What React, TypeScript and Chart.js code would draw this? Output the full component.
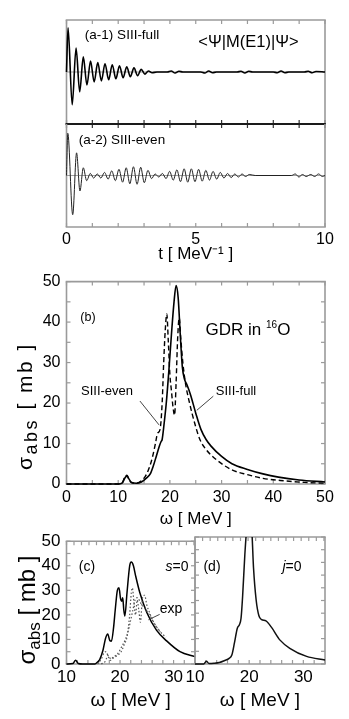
import React, { useEffect, useRef } from 'react';
import { Chart, registerables } from 'chart.js';

Chart.register(...registerables);

const FONT = "'Liberation Sans', Arial, Helvetica, sans-serif";
Chart.defaults.font.family = FONT;
Chart.defaults.color = '#000';

// ---------- panel (a-1): <Psi|M(E1)|Psi>, SIII-full ----------
const a1Time = [0, 0.06, 0.22, 0.37, 0.51, 0.65, 0.79, 0.93, 1.07, 1.21, 1.35, 1.49, 1.63, 1.77, 1.91, 2.05, 2.19, 2.33, 2.47, 2.61, 2.75, 2.89, 3.03, 3.17, 3.31, 3.5, 3.9, 4.05, 4.2, 4.35, 4.5, 5.2, 5.35, 5.5, 5.65, 5.8, 6.6, 6.75, 6.9, 7.05, 7.2, 8.0, 8.15, 8.3, 8.45, 8.6, 9.2, 9.35, 9.5, 9.65, 10];
const a1Moment = [0, 0.85, -0.63, 0.46, -0.38, 0.29, -0.25, 0.21, -0.19, 0.18, -0.17, 0.16, -0.15, 0.14, -0.13, 0.12, -0.11, 0.10, -0.09, 0.08, -0.07, 0.05, -0.04, 0.02, -0.015, 0, 0, 0.02, -0.02, 0.015, 0, 0, -0.02, 0.02, -0.015, 0, 0, 0.015, -0.02, 0.015, 0, 0, -0.015, 0.02, -0.015, 0, 0, 0.015, -0.015, 0.01, 0];

// ---------- panel (a-2): SIII-even ----------
const a2Time = [0, 0.05, 0.24, 0.39, 0.52, 0.65, 0.78, 0.92, 1.05, 1.19, 1.33, 1.47, 1.61, 1.75, 1.89, 2.03, 2.17, 2.31, 2.45, 2.59, 2.73, 2.87, 3.01, 3.15, 3.29, 3.43, 3.57, 3.71, 3.85, 3.99, 4.13, 4.27, 4.41, 4.55, 4.69, 4.83, 4.97, 5.11, 5.25, 5.39, 5.53, 5.67, 5.81, 5.95, 6.09, 6.23, 6.37, 6.51, 6.65, 6.79, 6.93, 7.07, 7.3, 8.7, 8.85, 8.99, 9.13, 9.27, 9.45, 9.6, 9.75, 9.9, 10];
const a2Moment = [0, 0.82, -0.76, 0.44, -0.30, 0.15, -0.10, 0.04, -0.05, 0.03, -0.05, 0.06, -0.07, 0.09, -0.10, 0.12, -0.13, 0.15, -0.16, 0.17, -0.17, 0.16, -0.14, 0.10, -0.06, 0.03, -0.03, 0.04, -0.06, 0.08, -0.09, 0.11, -0.12, 0.13, -0.13, 0.13, -0.12, 0.12, -0.11, 0.10, -0.09, 0.08, -0.07, 0.06, -0.05, 0.04, -0.04, 0.03, -0.03, 0.03, -0.02, 0.02, 0, 0, 0.03, -0.03, 0.02, -0.02, 0.02, -0.02, 0.03, -0.02, 0];
const tTickValues = [0, 5, 10];

// ---------- panel (b): GDR in 16O ----------
const bFullOmega = [0, 10, 10.8, 11.3, 11.7, 12.1, 12.6, 13.5, 14.5, 15.5, 16.2, 16.8, 17.4, 18.0, 18.3, 18.5, 18.8, 19.3, 19.8, 20.3, 20.8, 21.2, 21.6, 22.0, 22.4, 22.8, 23.3, 24, 25, 26, 27, 28, 30, 32, 35, 38, 41, 45, 50];
const bFullSigma = [0, 0, 0.3, 1.5, 2, 1.2, 0.4, 0.2, 0.5, 1.5, 2.5, 4.5, 7, 9.5, 10.5, 11, 14, 20, 28, 37, 45, 49, 46, 37, 29, 26, 24.5, 22, 17.5, 13.5, 11, 9.3, 6.8, 5.0, 3.6, 2.5, 1.7, 1.0, 0.5];
const bEvenOmega = [0, 10, 10.8, 11.3, 11.7, 12.1, 12.6, 13.5, 14.5, 15.3, 16, 16.6, 17.2, 17.6, 18.1, 18.5, 18.8, 19.1, 19.4, 19.7, 20.0, 20.3, 20.6, 20.9, 21.2, 21.5, 21.8, 22.1, 22.5, 23, 23.8, 24.8, 25.8, 27, 29, 32, 35, 38, 42, 46, 50];
const bEvenSigma = [0, 0, 0.3, 1.8, 2.2, 1.0, 0.3, 0.2, 0.8, 2, 4, 6.5, 10, 12.5, 13.5, 20, 30, 38, 42, 35, 27, 23, 19, 17, 25, 36, 41, 36, 30, 25, 20, 15, 11, 8.5, 6, 3.5, 2.3, 1.4, 0.8, 0.4, 0.2];
const bOmegaTicks = [0, 10, 20, 30, 40, 50];
const bSigmaTicks = [0, 10, 20, 30, 40, 50];

// ---------- panel (c): s=0 with experiment ----------
const cOmega = [10, 11.2, 11.7, 12.2, 13, 15.3, 15.8, 16.2, 16.8, 17.3, 17.7, 18.1, 18.4, 18.8, 19.1, 19.5, 19.8, 20.1, 20.3, 20.5, 20.7, 20.9, 21.3, 21.8, 22.1, 22.5, 22.9, 23.7, 25, 26.8, 28.7, 31.2, 34];
const cSigma = [0, 0.2, 1.5, 0.2, 0, 0, 0.8, 1.8, 5.5, 10.5, 12.2, 9.5, 9.3, 15, 22, 30, 31, 26.5, 25.5, 27, 22, 19.5, 29, 40, 41.5, 40, 36, 29, 21, 13.8, 9.4, 5, 3];
const exp1Omega = [15.8, 16.5, 17.0, 17.4, 17.8, 18.2, 18.8, 19.5, 20.2, 20.8, 21.3, 21.8, 22.1, 22.3, 22.6, 22.9, 23.2, 23.5, 23.8, 24.2, 24.6, 25, 25.5, 26.3, 27.2, 28, 28.6];
const exp1Sigma = [0, 2, 4.5, 5, 3, 1.5, 2.5, 3.5, 5, 8, 11, 20, 29, 31, 25, 20, 26, 22, 17, 27, 28, 24, 21, 17, 14, 12, 11];
const exp2Omega = [16.5, 17.2, 17.8, 18.3, 18.8, 19.5, 20.3, 21, 21.6, 22, 22.4, 22.8, 23.3, 23.8, 24.5, 25.5, 26.5, 27.5];
const exp2Sigma = [0, 1, 3.5, 2, 3, 4, 7, 10, 14, 18, 22, 26, 27, 25, 23, 20, 16, 13];

// ---------- panel (d): j=0 ----------
const dOmega = [10, 11.6, 12.1, 12.6, 13.5, 14.5, 15.5, 16.3, 16.8, 17.3, 17.8, 18.2, 18.5, 18.8, 19.2, 19.5, 20.0, 20.5, 20.8, 21.3, 21.8, 22.3, 23.1, 24.1, 25.7, 27.5, 30.6, 34];
const dSigma = [0, 0, 1.1, 0.2, 0.3, 0.6, 1.4, 2.2, 3.5, 8.5, 14, 15.5, 18, 27, 43, 52, 58, 52, 38, 25, 19, 17.5, 17, 14.5, 9.4, 6.2, 3, 1.6];
const cdOmegaTicks = [10, 20, 30];
const cdSigmaTicks = [0, 10, 20, 30, 40, 50];

const pts = (xs: number[], ys: number[]) => xs.map((x, i) => ({ x, y: ys[i] }));
const setTicks = (vals: number[]) => (scale: any) => {
  scale.ticks = vals.map((v) => ({ value: v }));
};

const GRAY = '#9a9a9a';

const framePlugin = {
  id: 'frame',
  beforeDatasetsDraw(chart: any, _args: any, opts: any) {
    const { ctx, chartArea: a, scales } = chart;
    const xs = scales.x;
    const ys = scales.y;
    ctx.save();
    if (opts.zeroLine) {
      const y0 = ys.getPixelForValue(0);
      ctx.strokeStyle = '#777';
      ctx.lineWidth = 0.7;
      ctx.beginPath();
      ctx.moveTo(a.left, y0);
      ctx.lineTo(a.right, y0);
      ctx.stroke();
    }
    ctx.lineWidth = 1.2;
    ctx.strokeStyle = GRAY;
    for (const t of opts.ticks || []) {
      const horiz = t.side === 'top' || t.side === 'bottom';
      const sc = horiz ? xs : ys;
      const len = t.len || 4;
      const start = t.from !== undefined ? t.from : sc.min;
      for (let v = start; v <= sc.max + 1e-6; v += t.step) {
        const p = sc.getPixelForValue(v);
        ctx.strokeStyle = t.color || GRAY;
        ctx.beginPath();
        if (t.side === 'top') { ctx.moveTo(p, a.top); ctx.lineTo(p, a.top + len); }
        if (t.side === 'bottom') { ctx.moveTo(p, a.bottom); ctx.lineTo(p, a.bottom - len); }
        if (t.side === 'left') { ctx.moveTo(a.left, p); ctx.lineTo(a.left + len, p); }
        if (t.side === 'right') { ctx.moveTo(a.right, p); ctx.lineTo(a.right - len, p); }
        ctx.stroke();
      }
    }
    const b = opts.borders || {};
    const side = (name: string, x1: number, y1: number, x2: number, y2: number) => {
      const s = b[name] || { color: GRAY, width: 1.6 };
      if (s.hide) return;
      ctx.strokeStyle = s.color;
      ctx.lineWidth = s.width;
      ctx.beginPath();
      ctx.moveTo(x1, y1);
      ctx.lineTo(x2, y2);
      ctx.stroke();
    };
    side('top', a.left - 0.8, a.top, a.right + 0.8, a.top);
    side('bottom', a.left - 0.8, a.bottom, a.right + 0.8, a.bottom);
    side('left', a.left, a.top, a.left, a.bottom);
    side('right', a.right, a.top, a.right, a.bottom);
    ctx.restore();
  },
  afterDatasetsDraw(chart: any, _args: any, opts: any) {
    const { ctx, scales } = chart;
    ctx.save();
    ctx.strokeStyle = '#444';
    ctx.lineWidth = 1;
    for (const l of opts.leaders || []) {
      ctx.beginPath();
      ctx.moveTo(scales.x.getPixelForValue(l[0]), scales.y.getPixelForValue(l[1]));
      ctx.lineTo(scales.x.getPixelForValue(l[2]), scales.y.getPixelForValue(l[3]));
      ctx.stroke();
    }
    ctx.restore();
  },
};

const line = (data: any[], extra: any = {}) => ({
  data,
  borderColor: '#000',
  borderWidth: 1.5,
  pointRadius: 0,
  cubicInterpolationMode: 'monotone',
  fill: false,
  clip: 4,
  ...extra,
});

const baseOptions = (padding: any, scales: any, frame: any) => ({
  animation: false,
  responsive: false,
  maintainAspectRatio: false,
  events: [],
  layout: { padding },
  scales,
  plugins: { legend: { display: false }, tooltip: { enabled: false }, title: { display: false }, frame },
});

const hiddenAxis = (min: number, max: number) => ({ type: 'linear', min, max, display: false });

const xAxis = (min: number, max: number, ticksArr: number[], height: number, fontSize: number, pad: number, title: string, titleSize: number) => ({
  type: 'linear',
  min,
  max,
  position: 'bottom',
  afterBuildTicks: setTicks(ticksArr),
  afterFit: (s: any) => { s.height = height; },
  grid: { display: false, drawTicks: false },
  border: { display: false },
  ticks: { padding: pad, font: { family: FONT, size: fontSize }, color: '#000', maxRotation: 0, autoSkip: false },
  title: { display: true, text: title, font: { family: FONT, size: titleSize }, color: '#000', padding: 0 },
});

const yAxis = (min: number, max: number, ticksArr: number[], width: number, fontSize: number, pad: number) => ({
  type: 'linear',
  min,
  max,
  position: 'left',
  afterBuildTicks: setTicks(ticksArr),
  afterFit: (s: any) => { s.width = width; },
  grid: { display: false, drawTicks: false },
  border: { display: false },
  ticks: { padding: pad, font: { family: FONT, size: fontSize }, color: '#000', autoSkip: false },
});

const BLACK_EDGE = { color: '#1a1a1a', width: 1.8 };

function configA1(): any {
  return {
    type: 'line',
    data: { datasets: [line(pts(a1Time, a1Moment), { borderWidth: 1.6 })] },
    options: baseOptions(
      { left: 66.5, right: 24, top: 20, bottom: 2 },
      { x: hiddenAxis(0, 10), y: hiddenAxis(-1, 1) },
      {
        zeroLine: true,
        borders: { bottom: BLACK_EDGE },
        ticks: [
          { side: 'top', step: 1 },
          { side: 'bottom', step: 1, color: '#333' },
        ],
      }
    ),
    plugins: [framePlugin],
  };
}

function configA2(): any {
  return {
    type: 'line',
    data: { datasets: [line(pts(a2Time, a2Moment), { borderWidth: 1.0, borderColor: '#222' })] },
    options: baseOptions(
      { left: 66.5, right: 24, top: 2, bottom: 0 },
      { x: xAxis(0, 10, tTickValues, 38, 16, 3, 't [ MeV\u207B\u00B9 ]', 17), y: hiddenAxis(-1, 1) },
      {
        zeroLine: true,
        borders: { top: BLACK_EDGE },
        ticks: [
          { side: 'top', step: 1, color: '#333' },
          { side: 'bottom', step: 1 },
        ],
      }
    ),
    plugins: [framePlugin],
  };
}

function configB(): any {
  return {
    type: 'line',
    data: {
      datasets: [
        line(pts(bFullOmega, bFullSigma), { borderWidth: 1.6, label: 'SIII-full' }),
        line(pts(bEvenOmega, bEvenSigma), { borderWidth: 1.4, borderDash: [5, 3], label: 'SIII-even' }),
      ],
    },
    options: baseOptions(
      { left: 0, right: 24, top: 13, bottom: 0 },
      { x: xAxis(0, 50, bOmegaTicks, 46, 16, 4, '\u03C9 [ MeV ]', 17), y: yAxis(0, 50, bSigmaTicks, 66.5, 16, 6) },
      {
        ticks: [
          { side: 'top', step: 5 },
          { side: 'bottom', step: 5 },
          { side: 'left', step: 5 },
          { side: 'right', step: 5 },
        ],
        leaders: [
          [14.2, 20.5, 17.9, 14.6],
          [28.4, 21.7, 25.2, 18.2],
        ],
      }
    ),
    plugins: [framePlugin],
  };
}

function configC(): any {
  return {
    type: 'line',
    data: {
      datasets: [
        line(pts(exp1Omega, exp1Sigma), { borderWidth: 1.2, borderColor: '#555', borderDash: [1.5, 2], label: 'exp' }),
        line(pts(exp2Omega, exp2Sigma), { borderWidth: 1.2, borderColor: '#555', borderDash: [1.5, 2], label: 'exp' }),
        line(pts(cOmega, cSigma), { borderWidth: 1.5, label: 's=0' }),
      ],
    },
    options: baseOptions(
      { left: 0, right: 5, top: 12, bottom: 0 },
      { x: xAxis(10, 34, cdOmegaTicks, 48, 17, 3, '\u03C9 [ MeV ]', 19), y: yAxis(0, 50, cdSigmaTicks, 66.5, 17, 6) },
      {
        ticks: [
          { side: 'top', step: 1.4 },
          { side: 'bottom', step: 2 },
          { side: 'left', step: 5 },
          { side: 'right', step: 5 },
        ],
        leaders: [[25.3, 18, 27.4, 20.2]],
      }
    ),
    plugins: [framePlugin],
  };
}

function configD(): any {
  return {
    type: 'line',
    data: {
      datasets: [line(pts(dOmega, dSigma), { borderWidth: 1.5, borderColor: '#111', label: 'j=0', clip: { left: 4, right: 4, top: 0, bottom: 4 } })],
    },
    options: baseOptions(
      { left: 20, right: 24, top: 12, bottom: 0 },
      { x: xAxis(10, 34, cdOmegaTicks, 48, 17, 3, '\u03C9 [ MeV ]', 19), y: hiddenAxis(0, 50) },
      {
        ticks: [
          { side: 'top', step: 1.4 },
          { side: 'bottom', step: 2 },
          { side: 'left', step: 5 },
          { side: 'right', step: 5 },
        ],
      }
    ),
    plugins: [framePlugin],
  };
}

const Label = ({ x, y, size, children, rotate }: any) => (
  <div
    style={{
      position: 'absolute',
      left: x,
      top: y,
      transform: `translate(-50%, -50%)${rotate ? ' rotate(-90deg)' : ''}`,
      fontFamily: FONT,
      fontSize: size,
      lineHeight: 1,
      whiteSpace: 'pre',
      color: '#000',
    }}
  >
    {children}
  </div>
);

const SigmaTitle = ({ sub, ls }: any) => (
  <span style={{ letterSpacing: ls }}>
    σ<span style={{ fontSize: sub, position: 'relative', top: '0.3em' }}>abs</span> [ mb ]
  </span>
);

export default function App() {
  const rA1 = useRef<HTMLCanvasElement>(null);
  const rA2 = useRef<HTMLCanvasElement>(null);
  const rB = useRef<HTMLCanvasElement>(null);
  const rC = useRef<HTMLCanvasElement>(null);
  const rD = useRef<HTMLCanvasElement>(null);

  useEffect(() => {
    const charts = [
      new Chart(rA1.current as HTMLCanvasElement, configA1()),
      new Chart(rA2.current as HTMLCanvasElement, configA2()),
      new Chart(rB.current as HTMLCanvasElement, configB()),
      new Chart(rC.current as HTMLCanvasElement, configC()),
      new Chart(rD.current as HTMLCanvasElement, configD()),
    ];
    return () => charts.forEach((c) => c.destroy());
  }, []);

  const cv = (left: number, top: number): any => ({ position: 'absolute', left, top });

  return (
    <div style={{ position: 'absolute', left: 0, top: 0, width: 349, height: 719, background: '#fff', overflow: 'hidden' }}>
      <canvas ref={rA1} width={349} height={126} style={cv(0, 0)} />
      <canvas ref={rA2} width={349} height={143} style={cv(0, 122)} />
      <canvas ref={rB} width={349} height={264} style={cv(0, 266)} />
      <canvas ref={rC} width={200} height={187} style={cv(0, 525)} />
      <canvas ref={rD} width={174} height={187} style={cv(175, 525)} />

      <Label x={122} y={35} size={13.5}>(a-1) SIII-full</Label>
      <Label x={248.5} y={41} size={16.5}>{'<Ψ|M(E1)|Ψ>'}</Label>
      <Label x={122} y={140} size={13.5}>(a-2) SIII-even</Label>

      <Label x={88} y={317} size={12.5}>(b)</Label>
      <Label x={248} y={329} size={17}>
        GDR in <sup style={{ fontSize: 10, position: 'relative', top: -1, verticalAlign: 'top' }}>16</sup>O
      </Label>
      <Label x={107} y={390} size={13}>SIII-even</Label>
      <Label x={236} y={390} size={13}>SIII-full</Label>
      <Label x={24} y={406} size={21} rotate>
        <SigmaTitle sub={18} ls="2.5px" />
      </Label>

      <Label x={87} y={566} size={14}>(c)</Label>
      <Label x={177} y={566} size={14}><i>s</i>=0</Label>
      <Label x={171} y={608} size={14}>exp</Label>
      <Label x={212} y={566} size={14}>(d)</Label>
      <Label x={292} y={566} size={14}><i>j</i>=0</Label>
      <Label x={27} y={610} size={24} rotate>
        <SigmaTitle sub={17} ls="0px" />
      </Label>
    </div>
  );
}
